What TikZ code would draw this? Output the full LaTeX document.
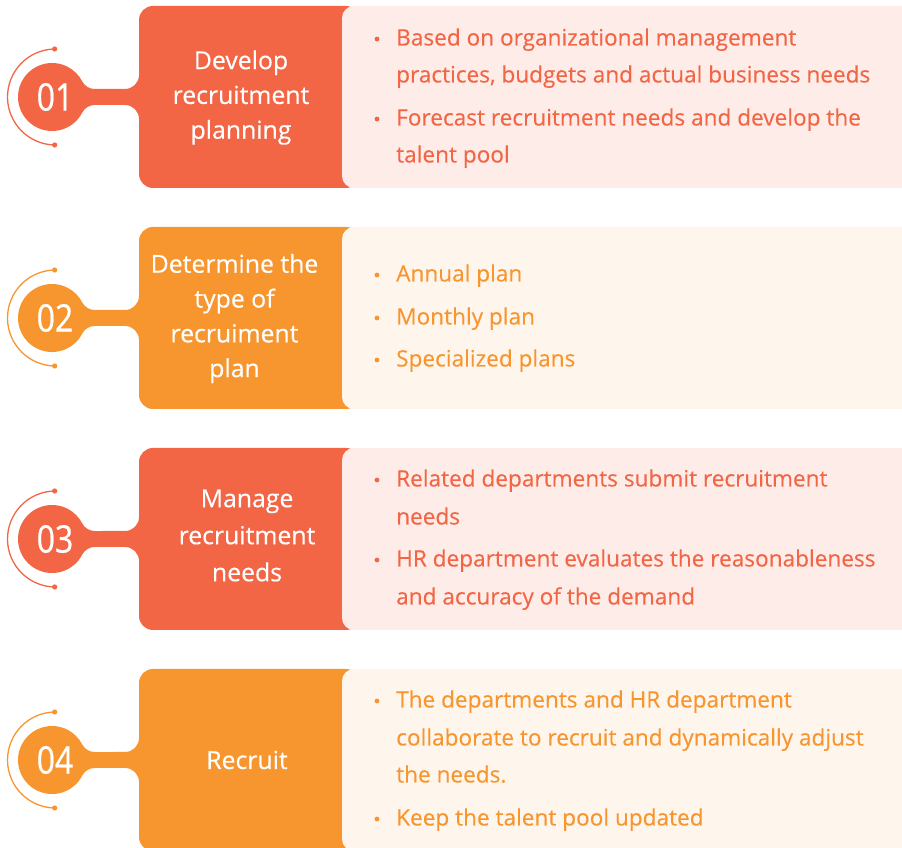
\documentclass[tikz,border=0pt]{standalone}
\usepackage{fontspec}
\setmainfont{Open Sans}
\newfontfamily\numfont[FakeStretch=0.84,FakeBold=0.6]{Open Sans}
\newfontfamily\headfont[FakeBold=0.35]{Open Sans}
\newfontfamily\itemfont[FakeBold=0.2]{Open Sans}
\definecolor{cred}{HTML}{F26545}
\definecolor{corg}{HTML}{F7952F}
\definecolor{lred}{HTML}{FDECE8}
\definecolor{lorg}{HTML}{FEF5EC}
\tikzset{
  numtxt/.style={text=white, font=\numfont\fontsize{38}{38}\selectfont, inner sep=0},
  headtxt/.style={text=white, font=\headfont\fontsize{24.8}{34.8}\selectfont, align=center, inner sep=0},
  itemtxt/.style={font=\itemfont\fontsize{22.6}{37}\selectfont, inner sep=0, anchor=base west},
  dotmark/.style={circle, inner sep=0, minimum size=4.8pt},
}
\newcommand\stepshape[4]{%
\begin{scope}[shift={(52,848-#2)}]
 \fill[#3, rounded corners=14] (87,-91) rectangle (308,91);
 \fill[#4, rounded corners=12] (290,-91) rectangle (880,91);
 \fill[#3] (30.25,15.58) arc[start angle=207.26,end angle=270,radius=14]
   -- (73,8) arc[start angle=270,end angle=360,radius=14]
   -- (87,-22) arc[start angle=0,end angle=90,radius=14]
   -- (42.7,-8) arc[start angle=90,end angle=152.74,radius=14]
   arc[start angle=-27.26,end angle=-332.74,radius=34] -- cycle;
 \draw[#3, line width=1.3] (3.5,0) ++(91:48) coordinate (a#1)
   arc[start angle=91,end angle=269,radius=48] coordinate (b#1);
 \fill[#3] (a#1) circle[radius=2.6];
 \fill[#3] (b#1) circle[radius=2.6];
\end{scope}}
\newcommand\itemline[4]{\node[itemtxt, text=#3] (i#1) at (396,846.5-#2) {#4};}
\newcommand\itemdot[3]{\node[dotmark, fill=#3] (d#1) at (377,853-#2) {};}
\begin{document}
\begin{tikzpicture}[x=1pt,y=1pt]
\useasboundingbox (0,0) rectangle (902,848);
\stepshape{1}{97}{cred}{lred}
\stepshape{2}{318}{corg}{lorg}
\stepshape{3}{539}{cred}{lred}
\stepshape{4}{760}{corg}{lorg}
% numbers
\node[numtxt] (n1) at (55,848-97) {01};
\node[numtxt] (n2) at (55,848-318) {02};
\node[numtxt] (n3) at (55,848-539) {03};
\node[numtxt] (n4) at (55,848-760) {04};
% headings
\node[headtxt] (h1) at (241,848-97.5) {Develop\\recruitment\\planning};
\node[headtxt] (h2) at (234.5,848-318.5) {Determine the\\type of\\recruiment\\plan};
\node[headtxt, font=\headfont\fontsize{24.8}{37}\selectfont] (h3) at (247,848-535.5) {Manage\\recruitment\\needs};
\node[headtxt] (h4) at (247,848-760) {Recruit};
% row 1 items
\itemdot{1a}{44}{cred}
\itemline{1a}{44}{cred}{Based on organizational management}
\itemline{1b}{81}{cred}{practices, budgets and actual business needs}
\itemdot{1c}{124}{cred}
\itemline{1c}{124}{cred}{Forecast recruitment needs and develop the}
\itemline{1d}{161}{cred}{talent pool}
% row 2 items
\itemdot{2a}{280}{corg}
\itemline{2a}{280}{corg}{Annual plan}
\itemdot{2b}{323}{corg}
\itemline{2b}{323}{corg}{Monthly plan}
\itemdot{2c}{365}{corg}
\itemline{2c}{365}{corg}{Specialized plans}
% row 3 items
\itemdot{3a}{485}{cred}
\itemline{3a}{485}{cred}{Related departments submit recruitment}
\itemline{3b}{523}{cred}{needs}
\itemdot{3c}{565}{cred}
\itemline{3c}{565}{cred}{HR department evaluates the reasonableness}
\itemline{3d}{603}{cred}{and accuracy of the demand}
% row 4 items
\itemdot{4a}{706}{corg}
\itemline{4a}{706}{corg}{The departments and HR department}
\itemline{4b}{744}{corg}{collaborate to recruit and dynamically adjust}
\itemline{4c}{781}{corg}{the needs.}
\itemdot{4d}{824}{corg}
\itemline{4d}{824}{corg}{Keep the talent pool updated}
\end{tikzpicture}
\end{document}
